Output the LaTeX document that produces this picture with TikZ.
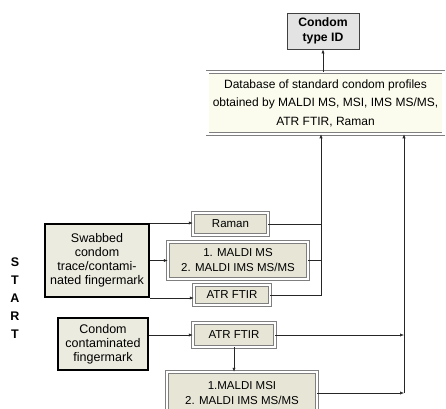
\documentclass[tikz,border=0pt]{standalone}
\usepackage{fontspec}
\setmainfont{Liberation Sans}
\usetikzlibrary{arrows.meta,shadows}
\definecolor{beige}{HTML}{E7E5D6}
\definecolor{mainbeige}{HTML}{ECEBDF}
\definecolor{cream}{HTML}{FCFCEE}
\definecolor{idgray}{HTML}{E3E3E3}
\definecolor{bordgray}{HTML}{7F7F7F}
\tikzset{
  mainbox/.style={draw=black, line width=2pt, fill=mainbeige, align=center, inner sep=0pt,
    font=\fontsize{12.5}{14}\selectfont},
  techbox/.style={draw=bordgray, line width=0.5pt, double=white, double distance=2.2pt,
    fill=beige, align=center, inner sep=0pt, font=\fontsize{11.5}{15}\selectfont,
    drop shadow={shadow xshift=1.5pt, shadow yshift=-1.8pt, opacity=0.55}},
  dbbox/.style={draw=bordgray, line width=0.5pt, double=white, double distance=2.2pt,
    fill=cream, align=center, inner sep=0pt, font=\fontsize{12}{18.5}\selectfont,
    drop shadow={shadow xshift=1.5pt, shadow yshift=-2pt, opacity=0.5}},
  idbox/.style={draw=black!75, line width=0.8pt, fill=idgray, align=center, inner sep=0pt,
    font=\fontsize{12.2}{14.5}\selectfont\bfseries},
  startlet/.style={font=\fontsize{12.5}{14}\selectfont\bfseries, inner sep=0pt},
  conn/.style={draw=black!85, line width=0.6pt},
  arr/.style={conn, -{Latex[length=4pt,width=3.2pt]}}
}
\begin{document}
\begin{tikzpicture}[x=1pt,y=-1pt]
\useasboundingbox (0,0) rectangle (446,408);
% nodes
\node[idbox, minimum width=72pt, minimum height=36pt] (typeid) at (323,31) {Condom\\type ID};
\node[dbbox, minimum width=236pt, minimum height=62pt] (db) at (325.5,103)
  {Database of standard condom profiles\\obtained by MALDI MS, MSI, IMS MS/MS,\\ATR FTIR, Raman};
\node[mainbox, minimum width=104pt, minimum height=73pt] (swab) at (97,260.5)
  {Swabbed\\condom\\trace/contami-\\nated fingermark};
\node[techbox, minimum width=75pt, minimum height=22pt] (raman) at (230.5,224) {Raman};
\node[techbox, minimum width=140pt, minimum height=37pt] (maldi1) at (238,260.5) {1. MALDI MS\\2. MALDI IMS MS/MS};
\node[techbox, minimum width=76pt, minimum height=20pt] (atr1) at (232,295) {ATR FTIR};
\node[mainbox, minimum width=90pt, minimum height=52pt] (ccf) at (103,344)
  {Condom\\contaminated\\fingermark};
\node[techbox, minimum width=82pt, minimum height=24pt] (atr2) at (234,335) {ATR FTIR};
\node[techbox, minimum width=150pt, minimum height=42pt] (maldi2) at (242,393) {1.MALDI MSI\\2. MALDI IMS MS/MS};
% START
\node[startlet] (s1) at (15,262) {S};
\node[startlet] (s2) at (15,280) {T};
\node[startlet] (s3) at (15,298) {A};
\node[startlet] (s4) at (15,316) {R};
\node[startlet] (s5) at (15,334) {T};
% junction coordinates
\coordinate (j1) at (321,295);
\coordinate (j2) at (404,393);
% connectors
\draw[arr] (db.north -| typeid.south) -- (typeid.south);
\draw[arr] (swab.north east) -- (swab.north east -| raman.west);
\draw[arr] (swab.east) -- (maldi1.west);
\draw[arr] (swab.south east) -- (swab.south east -| atr1.west);
\draw[conn] (raman.east) -- (raman.east -| j1);
\draw[conn] (maldi1.east) -- (maldi1.east -| j1);
\draw[arr] (atr1.east) -- (j1) -- (j1 |- db.south);
\draw[arr] (atr2.west -| ccf.east) -- (atr2.west);
\draw[arr] (atr2.south) -- (atr2.south |- maldi2.north);
\draw[arr] (atr2.east) -- (atr2.east -| j2);
\draw[arr] (maldi2.east) -- (j2);
\draw[arr] (j2) -- (j2 |- db.south);
\end{tikzpicture}
\end{document}
